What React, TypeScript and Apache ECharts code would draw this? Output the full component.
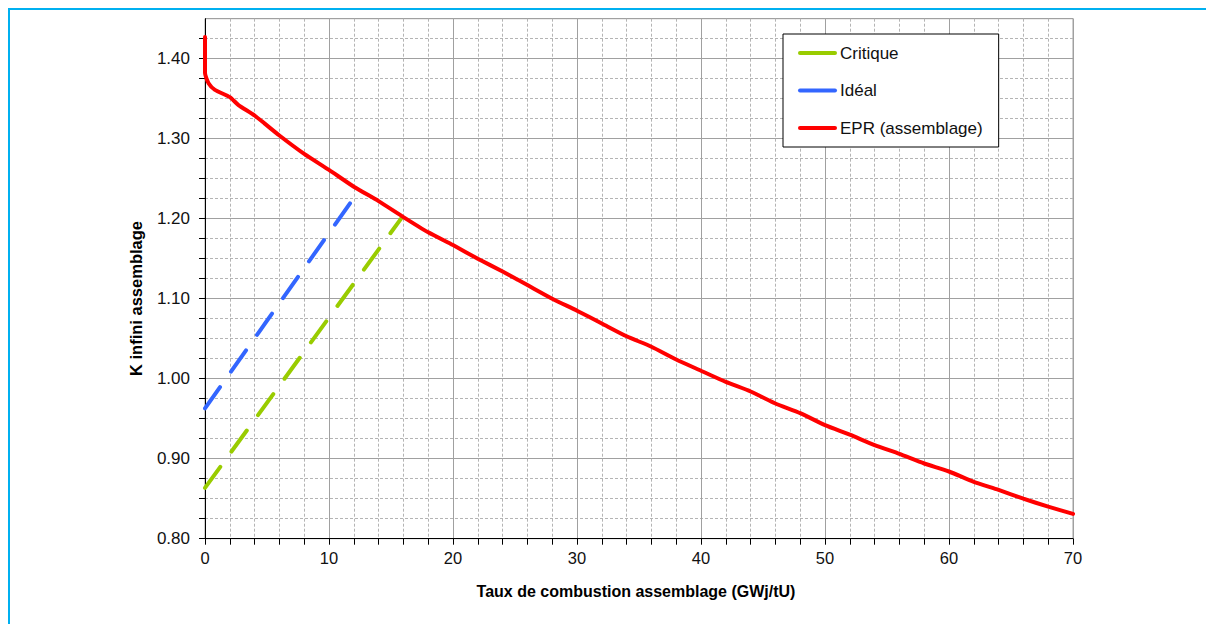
import React, { useEffect, useRef } from "react";
import * as echarts from "echarts";

const FONT = "'Liberation Sans', Arial, sans-serif";

const seriesNames = ["Critique", "Idéal", "EPR (assemblage)"];
const seriesColors = ["#99cc00", "#3366ff", "#ff0000"];

const critiqueX = [0, 15.9];
const critiqueY = [0.8635, 1.202];

const idealX = [0, 12.1];
const idealY = [0.963, 1.228];

const eprX = [0, 0, 0.3, 0.8, 2, 2.7, 4, 6, 8, 10, 12, 14, 16, 18, 20, 22, 24, 26, 28, 30, 32, 34, 36, 38, 40, 42, 44, 46, 48, 50, 52, 54, 56, 58, 60, 62, 64, 66, 68, 70];
const eprY = [1.427, 1.382, 1.369, 1.361, 1.352, 1.342, 1.329, 1.304, 1.281, 1.261, 1.240, 1.222, 1.202, 1.183, 1.167, 1.150, 1.134, 1.117, 1.100, 1.085, 1.069, 1.053, 1.040, 1.024, 1.010, 0.996, 0.984, 0.969, 0.957, 0.942, 0.930, 0.917, 0.906, 0.894, 0.884, 0.871, 0.861, 0.850, 0.840, 0.831];

const xTitle = "Taux de combustion assemblage (GWj/tU)";
const yTitle = "K infini assemblage";

const zip = (xs: number[], ys: number[]) => xs.map((x, i) => [x, ys[i]]);

export default function App() {
  const ref = useRef<HTMLDivElement>(null);

  useEffect(() => {
    if (!ref.current) return;
    const chart = echarts.init(ref.current, null, { renderer: "svg" });
    const minorGrid = { show: true, lineStyle: { color: "#b4b4b4", width: 1, type: [3, 2] } };
    const majorGrid = { show: true, lineStyle: { color: "#a0a0a0", width: 1, type: "solid" } };
    const dashed = (color: string) => ({ color, width: 4, type: [26, 19], cap: "round" });
    chart.setOption({
      animation: false,
      backgroundColor: "#ffffff",
      grid: {
        left: 195,
        top: 8.7,
        right: 133,
        bottom: 85.3,
        show: true,
        borderColor: "#a0a0a0",
        borderWidth: 1,
        backgroundColor: "#ffffff",
      },
      xAxis: [
        {
          type: "value",
          min: 0,
          max: 70,
          interval: 2,
          axisLine: { show: true, onZero: false, lineStyle: { color: "#000", width: 1 } },
          axisTick: { show: true, length: 6, lineStyle: { color: "#000" } },
          axisLabel: {
            margin: 11,
            fontSize: 16.5,
            fontFamily: FONT,
            color: "#111",
            formatter: (v: number) => (Math.abs(v / 10 - Math.round(v / 10)) < 1e-6 ? String(Math.round(v)) : ""),
          },
          splitLine: minorGrid,
        },
        {
          type: "value",
          min: 0,
          max: 70,
          interval: 10,
          position: "top",
          axisLine: { show: false },
          axisTick: { show: false },
          axisLabel: { show: false },
          splitLine: majorGrid,
        },
      ],
      yAxis: [
        {
          type: "value",
          min: 0.8,
          max: 1.45,
          interval: 0.025,
          axisLine: { show: true, onZero: false, lineStyle: { color: "#000", width: 1 } },
          axisTick: { show: true, length: 6, lineStyle: { color: "#000" } },
          axisLabel: {
            margin: 15,
            fontSize: 17,
            fontFamily: FONT,
            color: "#111",
            showMaxLabel: false,
            formatter: (v: number) => (Math.abs(v * 10 - Math.round(v * 10)) < 1e-6 ? v.toFixed(2) : ""),
          },
          splitLine: minorGrid,
        },
        {
          type: "value",
          min: 0.8,
          max: 1.45,
          interval: 0.1,
          position: "right",
          axisLine: { show: false },
          axisTick: { show: false },
          axisLabel: { show: false },
          splitLine: majorGrid,
        },
      ],
      legend: {
        orient: "vertical",
        left: 773,
        top: 24,
        padding: [10, 16, 10, 15],
        itemGap: 19.5,
        itemWidth: 35,
        itemHeight: 4,
        backgroundColor: "#ffffff",
        borderColor: "#000000",
        borderWidth: 1,
        borderRadius: 0,
        textStyle: { fontSize: 17, fontFamily: FONT, color: "#111", lineHeight: 18 },
        itemStyle: { opacity: 0 },
        lineStyle: { type: "solid", width: 4, cap: "round" },
        data: seriesNames,
      },
      series: [
        {
          name: seriesNames[0],
          type: "line",
          xAxisIndex: 0,
          yAxisIndex: 0,
          symbol: "none",
          color: seriesColors[0],
          lineStyle: dashed(seriesColors[0]),
          data: zip(critiqueX, critiqueY),
          z: 3,
        },
        {
          name: seriesNames[1],
          type: "line",
          xAxisIndex: 0,
          yAxisIndex: 0,
          symbol: "none",
          color: seriesColors[1],
          lineStyle: dashed(seriesColors[1]),
          data: zip(idealX, idealY),
          z: 3,
        },
        {
          name: seriesNames[2],
          type: "line",
          xAxisIndex: 0,
          yAxisIndex: 0,
          symbol: "none",
          smooth: 0.2,
          color: seriesColors[2],
          lineStyle: { color: seriesColors[2], width: 4, join: "round", cap: "round" },
          data: zip(eprX, eprY),
          z: 4,
        },
      ],
      graphic: [
        {
          type: "text",
          x: 125.5,
          y: 288.5,
          rotation: Math.PI / 2,
          style: {
            text: yTitle,
            font: `bold 16.5px ${FONT}`,
            fill: "#000",
            textAlign: "center",
            textVerticalAlign: "middle",
          },
        },
        {
          type: "text",
          x: 626,
          y: 581,
          style: {
            text: xTitle,
            font: `bold 16px ${FONT}`,
            fill: "#000",
            textAlign: "center",
            textVerticalAlign: "middle",
          },
        },
      ],
    });
    return () => chart.dispose();
  }, []);

  return (
    <div
      style={{
        position: "fixed",
        left: 8,
        top: 8,
        right: 0,
        bottom: 0,
        borderTop: "2px solid #00b0f0",
        borderLeft: "2px solid #00b0f0",
        background: "#fff",
      }}
    >
      <div ref={ref} style={{ width: 1196, height: 614 }} />
    </div>
  );
}
